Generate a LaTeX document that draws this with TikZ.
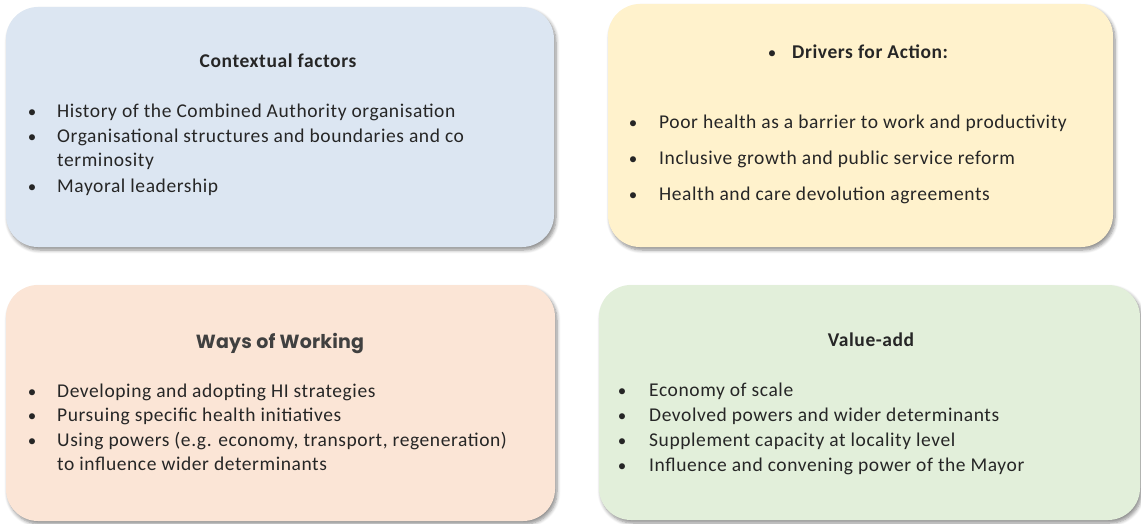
\documentclass[tikz,border=0pt]{standalone}
\usepackage{fontspec}
\setmainfont{Carlito}[LetterSpace=3.0]
\newfontfamily\headfont{Poppins}[LetterSpace=1.0]
\usetikzlibrary{shadows.blur}

\definecolor{boxblue}{HTML}{DCE6F2}
\definecolor{boxyellow}{HTML}{FFF2CC}
\definecolor{boxpeach}{HTML}{FBE5D6}
\definecolor{boxgreen}{HTML}{E2EFDA}
\definecolor{inktext}{HTML}{262626}
\definecolor{inkhead}{HTML}{404040}

\tikzset{
  panel/.style={rectangle, rounded corners=32pt, inner sep=0pt,
    blur shadow={shadow xshift=2pt, shadow yshift=-3pt,
      shadow blur radius=3.5pt, shadow blur steps=6, shadow opacity=45}},
  bodytext/.style={anchor=mid west, inner sep=0pt, text=inktext,
    font=\fontsize{19.5}{23}\selectfont},
  bulletmark/.style={anchor=mid, inner sep=0pt, text=inktext,
    font=\fontsize{17}{20}\selectfont},
  title/.style={anchor=mid, inner sep=0pt, text=inktext,
    font=\fontsize{19.5}{23}\selectfont\bfseries},
}

\begin{document}
\begin{tikzpicture}[x=1pt, y=-1pt]
\useasboundingbox (0,0) rectangle (1141,524);

% four panels
\node[panel, fill=boxblue, minimum width=548pt, minimum height=240pt] (ctx) at (280,127) {};
\node[panel, fill=boxyellow, minimum width=505pt, minimum height=243pt] (drv) at (860.5,125.5) {};
\node[panel, fill=boxpeach, minimum width=549pt, minimum height=236pt] (way) at (280.5,403) {};
\node[panel, fill=boxgreen, minimum width=541pt, minimum height=235pt] (val) at (869.5,402.5) {};

% Contextual factors
\node[title] (ctxT) at (278,65) {Contextual factors};
\node[bulletmark] (ctxb1) at (32,115) {•};
\node[bodytext] (ctx1) at (57,115) {History of the Combined Authority organisation};
\node[bulletmark] (ctxb2) at (32,140) {•};
\node[bodytext] (ctx2) at (57,140) {Organisational structures and boundaries and co};
\node[bodytext] (ctx2b) at (57,164) {terminosity};
\node[bulletmark] (ctxb3) at (32,190) {•};
\node[bodytext] (ctx3) at (57,190) {Mayoral leadership};

% Drivers for Action
\node[bulletmark] (drvTb) at (772,56) {•};
\node[title, anchor=mid west] (drvT) at (792,56) {Drivers for Action:};
\node[bulletmark] (drvb1) at (633,126) {•};
\node[bodytext] (drv1) at (659,126) {Poor health as a barrier to work and productivity};
\node[bulletmark] (drvb2) at (633,162) {•};
\node[bodytext] (drv2) at (659,162) {Inclusive growth and public service reform};
\node[bulletmark] (drvb3) at (633,198) {•};
\node[bodytext] (drv3) at (659,198) {Health and care devolution agreements};

% Ways of Working
\node[title, text=inkhead, font=\headfont\fontsize{19}{22}\selectfont\bfseries] (wayT) at (280,346) {Ways of Working};
\node[bulletmark] (wayb1) at (32,395) {•};
\node[bodytext] (way1) at (57,395) {Developing and adopting HI strategies};
\node[bulletmark] (wayb2) at (32,419) {•};
\node[bodytext] (way2) at (57,419) {Pursuing specific health initiatives};
\node[bulletmark] (wayb3) at (32,444) {•};
\node[bodytext] (way3) at (57,444) {Using powers (e.g. economy, transport, regeneration)};
\node[bodytext] (way3b) at (57,468) {to influence wider determinants};

% Value-add
\node[title] (valT) at (871,344) {Value-add};
\node[bulletmark] (valb1) at (622,394) {•};
\node[bodytext] (val1) at (649,394) {Economy of scale};
\node[bulletmark] (valb2) at (622,419) {•};
\node[bodytext] (val2) at (649,419) {Devolved powers and wider determinants};
\node[bulletmark] (valb3) at (622,444) {•};
\node[bodytext] (val3) at (649,444) {Supplement capacity at locality level};
\node[bulletmark] (valb4) at (622,469) {•};
\node[bodytext] (val4) at (649,469) {Influence and convening power of the Mayor};
\end{tikzpicture}
\end{document}
